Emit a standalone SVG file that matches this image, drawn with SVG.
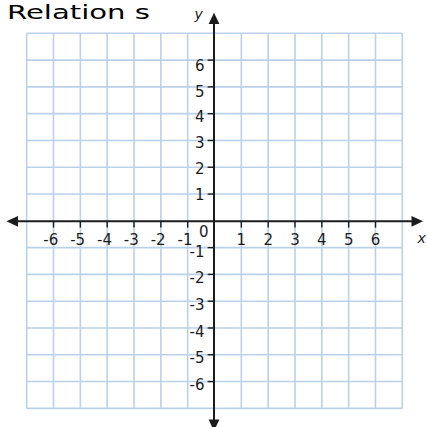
<svg xmlns="http://www.w3.org/2000/svg" width="427" height="427" viewBox="0 0 427 427">
<style>
.grid line{stroke:#b9d1e9;stroke-width:1.6}
.axis{stroke:#1c1c1c;stroke-width:2;fill:none}
.tick{stroke:#1c1c1c;stroke-width:1.4}
.head{fill:#1c1c1c}
.num{font-family:"DejaVu Sans","Verdana",sans-serif;font-size:15px;fill:#1c1c1c}
.lbl{font-family:"DejaVu Sans",sans-serif;font-size:14px;font-style:italic;fill:#1c1c1c}
.title{font-family:"Comic Sans MS","DejaVu Sans",sans-serif;font-size:20px;fill:#000}
</style>
<rect width="427" height="427" fill="#fff"/>
<text class="title" x="7" y="19" textLength="143" lengthAdjust="spacingAndGlyphs">Relation s</text>
<g id="grid" class="grid">
<line x1="26.7" y1="33.3" x2="26.7" y2="408.4"/>
<line x1="53.53" y1="33.3" x2="53.53" y2="408.4"/>
<line x1="80.36" y1="33.3" x2="80.36" y2="408.4"/>
<line x1="107.19" y1="33.3" x2="107.19" y2="408.4"/>
<line x1="134.02" y1="33.3" x2="134.02" y2="408.4"/>
<line x1="160.85" y1="33.3" x2="160.85" y2="408.4"/>
<line x1="187.68" y1="33.3" x2="187.68" y2="408.4"/>
<line x1="241.34" y1="33.3" x2="241.34" y2="408.4"/>
<line x1="268.17" y1="33.3" x2="268.17" y2="408.4"/>
<line x1="295" y1="33.3" x2="295" y2="408.4"/>
<line x1="321.83" y1="33.3" x2="321.83" y2="408.4"/>
<line x1="348.66" y1="33.3" x2="348.66" y2="408.4"/>
<line x1="375.49" y1="33.3" x2="375.49" y2="408.4"/>
<line x1="402.32" y1="33.3" x2="402.32" y2="408.4"/>
<line x1="26.7" y1="33.3" x2="402.32" y2="33.3"/>
<line x1="26.7" y1="60.09" x2="402.32" y2="60.09"/>
<line x1="26.7" y1="86.88" x2="402.32" y2="86.88"/>
<line x1="26.7" y1="113.67" x2="402.32" y2="113.67"/>
<line x1="26.7" y1="140.46" x2="402.32" y2="140.46"/>
<line x1="26.7" y1="167.25" x2="402.32" y2="167.25"/>
<line x1="26.7" y1="194.04" x2="402.32" y2="194.04"/>
<line x1="26.7" y1="247.62" x2="402.32" y2="247.62"/>
<line x1="26.7" y1="274.41" x2="402.32" y2="274.41"/>
<line x1="26.7" y1="301.2" x2="402.32" y2="301.2"/>
<line x1="26.7" y1="327.99" x2="402.32" y2="327.99"/>
<line x1="26.7" y1="354.78" x2="402.32" y2="354.78"/>
<line x1="26.7" y1="381.57" x2="402.32" y2="381.57"/>
<line x1="26.7" y1="408.36" x2="402.32" y2="408.36"/>
</g>
<g id="axes">
<line class="axis" x1="16" y1="221.3" x2="414" y2="221.3"/>
<line class="axis" x1="214" y1="22" x2="214" y2="421"/>
<polygon class="head" points="6.5,221.3 18,215.9 18,226.7"/>
<polygon class="head" points="423,221.3 411.5,215.9 411.5,226.7"/>
<polygon class="head" points="214,12.8 208.6,24 219.4,24"/>
<polygon class="head" points="214,431 208.6,419.5 219.4,419.5"/>
</g>
<g id="ticks">
<line class="tick" x1="53.53" y1="221" x2="53.53" y2="227.6"/>
<line class="tick" x1="80.36" y1="221" x2="80.36" y2="227.6"/>
<line class="tick" x1="107.19" y1="221" x2="107.19" y2="227.6"/>
<line class="tick" x1="134.02" y1="221" x2="134.02" y2="227.6"/>
<line class="tick" x1="160.85" y1="221" x2="160.85" y2="227.6"/>
<line class="tick" x1="187.68" y1="221" x2="187.68" y2="227.6"/>
<line class="tick" x1="241.34" y1="221" x2="241.34" y2="227.6"/>
<line class="tick" x1="268.17" y1="221" x2="268.17" y2="227.6"/>
<line class="tick" x1="295" y1="221" x2="295" y2="227.6"/>
<line class="tick" x1="321.83" y1="221" x2="321.83" y2="227.6"/>
<line class="tick" x1="348.66" y1="221" x2="348.66" y2="227.6"/>
<line class="tick" x1="375.49" y1="221" x2="375.49" y2="227.6"/>
<line class="tick" x1="207.6" y1="60.09" x2="214" y2="60.09"/>
<line class="tick" x1="207.6" y1="86.88" x2="214" y2="86.88"/>
<line class="tick" x1="207.6" y1="113.67" x2="214" y2="113.67"/>
<line class="tick" x1="207.6" y1="140.46" x2="214" y2="140.46"/>
<line class="tick" x1="207.6" y1="167.25" x2="214" y2="167.25"/>
<line class="tick" x1="207.6" y1="194.04" x2="214" y2="194.04"/>
<line class="tick" x1="207.6" y1="247.62" x2="214" y2="247.62"/>
<line class="tick" x1="207.6" y1="274.41" x2="214" y2="274.41"/>
<line class="tick" x1="207.6" y1="301.2" x2="214" y2="301.2"/>
<line class="tick" x1="207.6" y1="327.99" x2="214" y2="327.99"/>
<line class="tick" x1="207.6" y1="354.78" x2="214" y2="354.78"/>
<line class="tick" x1="207.6" y1="381.57" x2="214" y2="381.57"/>
</g>
<g id="x-labels" class="num">
<text x="58.3" y="245.2" text-anchor="end">-6</text>
<text x="85.1" y="245.2" text-anchor="end">-5</text>
<text x="112" y="245.2" text-anchor="end">-4</text>
<text x="138.8" y="245.2" text-anchor="end">-3</text>
<text x="165.6" y="245.2" text-anchor="end">-2</text>
<text x="192.5" y="245.2" text-anchor="end">-1</text>
<text x="241.3" y="245.2" text-anchor="middle">1</text>
<text x="268.2" y="245.2" text-anchor="middle">2</text>
<text x="295" y="245.2" text-anchor="middle">3</text>
<text x="321.8" y="245.2" text-anchor="middle">4</text>
<text x="348.7" y="245.2" text-anchor="middle">5</text>
<text x="375.5" y="245.2" text-anchor="middle">6</text>
</g>
<g id="y-labels" class="num" text-anchor="end">
<text x="204.5" y="70.8">6</text>
<text x="204.5" y="96.8">5</text>
<text x="204.5" y="122.4">4</text>
<text x="204.5" y="148.1">3</text>
<text x="204.5" y="173.8">2</text>
<text x="204.5" y="199.6">1</text>
<text x="204.5" y="256.8">-1</text>
<text x="204.5" y="283.2">-2</text>
<text x="204.5" y="309.8">-3</text>
<text x="204.5" y="336.5">-4</text>
<text x="204.5" y="363.4">-5</text>
<text x="204.5" y="390.2">-6</text>
</g>
<text id="origin" class="num" x="203.8" y="237.4" text-anchor="middle">0</text>
<text id="y-name" class="lbl" x="198.7" y="19" text-anchor="middle">y</text>
<text id="x-name" class="lbl" x="421.7" y="243.3" text-anchor="middle">x</text>
</svg>
